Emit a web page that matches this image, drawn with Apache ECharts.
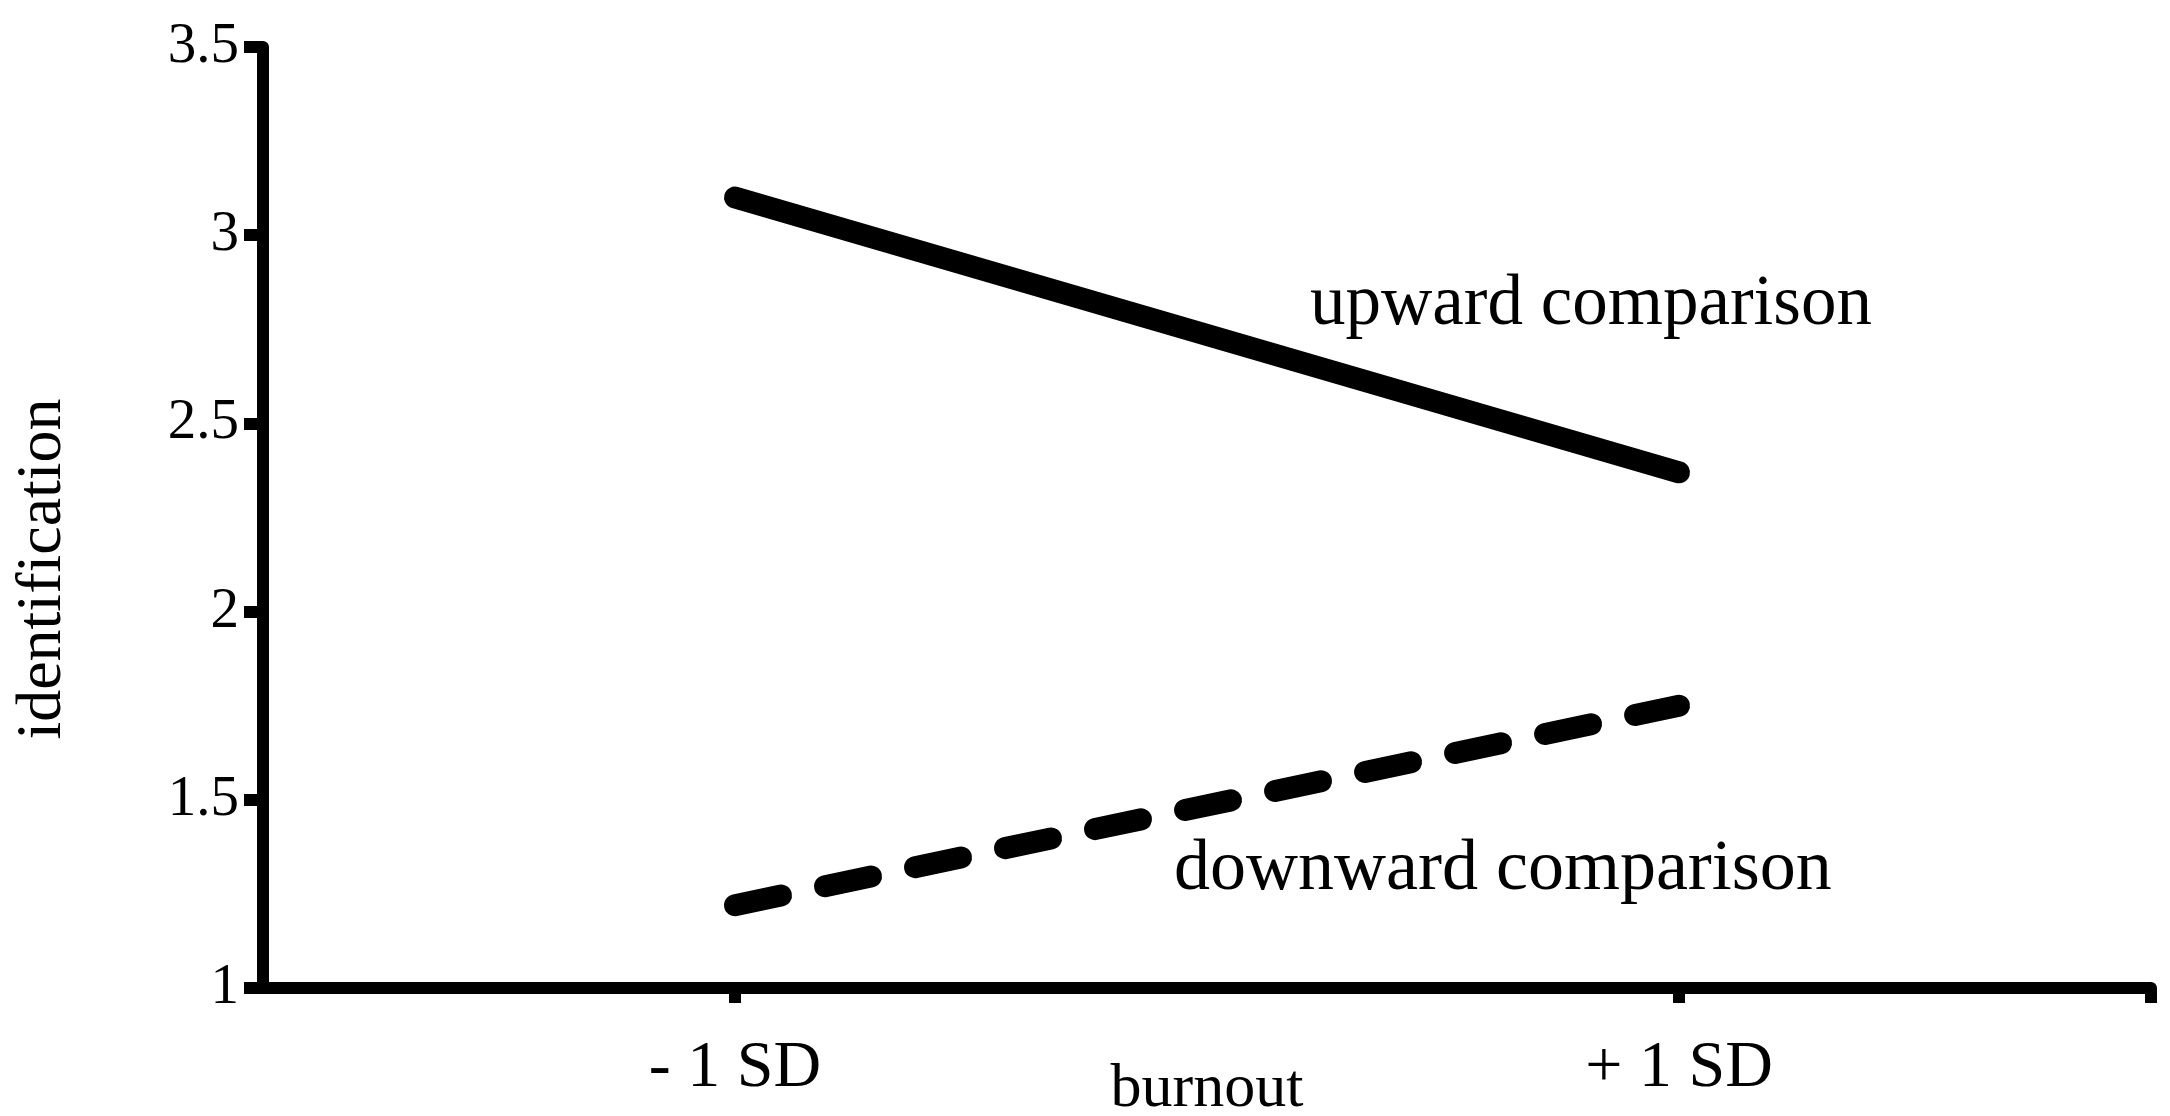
<!DOCTYPE html>
<html>
<head>
<meta charset="utf-8">
<script src="https://cdn.jsdelivr.net/npm/echarts@6/dist/echarts.min.js"></script>
<style>
html,body{margin:0;padding:0;background:#fff;}
#chart{width:2170px;height:1116px;}
</style>
</head>
<body>
<div id="chart"></div>
<script>
// Burnout levels in SD units
const burnoutLevels = [-1, 1];
const burnoutLabels = ['- 1 SD', '+ 1 SD'];
// identification values
const upwardValues = [3.10, 2.37];
const downwardValues = [1.22, 1.75];
const seriesNames = ['upward comparison', 'downward comparison'];
const yTicks = [1, 1.5, 2, 2.5, 3, 3.5];

const FONT = 'Liberation Serif';
const chart = echarts.init(document.getElementById('chart'));

function pairs(xs, ys) { return xs.map((x, i) => [x, ys[i]]); }

chart.setOption({
  animation: false,
  backgroundColor: '#ffffff',
  grid: { left: 263, right: 19, top: 47, bottom: 128, containLabel: false, outerBoundsMode: 'none' },
  xAxis: {
    type: 'value',
    min: -2, max: 2,
    name: 'burnout',
    nameLocation: 'middle',
    nameGap: 71,
    nameMoveOverlap: false,
    nameTextStyle: { fontFamily: FONT, fontSize: 62, color: '#000' },
    axisLine: { show: true, onZero: false, lineStyle: { color: '#000', width: 12 } },
    axisTick: { show: true, length: 15, customValues: [burnoutLevels[0], burnoutLevels[1], 2], lineStyle: { color: '#000', width: 12 } },
    axisLabel: {
      customValues: burnoutLevels,
      margin: 48,
      fontFamily: FONT, fontSize: 66, color: '#000',
      formatter: v => burnoutLabels[burnoutLevels.indexOf(v)] || ''
    },
    splitLine: { show: false }
  },
  yAxis: {
    type: 'value',
    min: yTicks[0], max: yTicks[yTicks.length - 1], interval: 0.5,
    axisLine: { show: true, onZero: false, lineStyle: { color: '#000', width: 12 } },
    axisTick: { show: true, length: 19, lineStyle: { color: '#000', width: 12 } },
    axisLabel: { margin: 24, fontFamily: FONT, fontSize: 57, color: '#000' },
    splitLine: { show: false }
  },
  graphic: [
    { type: 'text', x: 43, y: 569, rotation: Math.PI / 2,
      style: { text: 'identification', fontFamily: FONT, fontSize: 64, fill: '#000', align: 'center', verticalAlign: 'middle' } },
    { type: 'text', x: 1310, y: 305,
      style: { text: seriesNames[0], fontFamily: FONT, fontSize: 71, fill: '#000', align: 'left', verticalAlign: 'middle' } },
    { type: 'text', x: 1174, y: 870,
      style: { text: seriesNames[1], fontFamily: FONT, fontSize: 72, fill: '#000', align: 'left', verticalAlign: 'middle' } }
  ],
  series: [
    {
      name: seriesNames[0], type: 'line', data: pairs(burnoutLevels, upwardValues),
      symbol: 'none', lineStyle: { color: '#000', width: 22, cap: 'round', type: 'solid' }
    },
    {
      name: seriesNames[1], type: 'line', data: pairs(burnoutLevels, downwardValues),
      symbol: 'none', lineStyle: { color: '#000', width: 22, cap: 'round', type: [47, 45], dashOffset: 0 }
    }
  ]
});
</script>
</body>
</html>
